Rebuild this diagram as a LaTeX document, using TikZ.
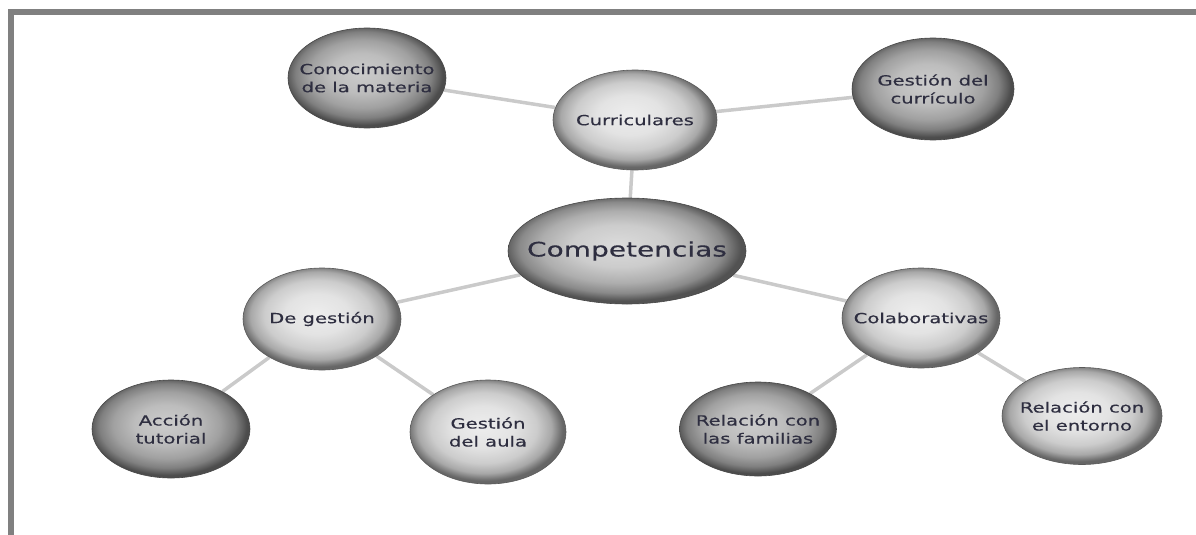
\documentclass[tikz,border=0pt]{standalone}
\usepackage{fontspec}
\setmainfont{DejaVu Sans}[FakeStretch=1.4,FakeBold=0.35]
\usetikzlibrary{shapes.geometric,backgrounds}
\definecolor{labelink}{HTML}{2E2E40}
\definecolor{linkgray}{HTML}{CACACA}
\definecolor{framegray}{HTML}{808080}
% shadings for the balls
\pgfdeclareradialshading{lightball}{\pgfpoint{-2bp}{3bp}}{color(0bp)=(white!93!black); color(10bp)=(white!89!black); color(17bp)=(white!80!black); color(21.5bp)=(white!66!black); color(24bp)=(white!47!black); color(25bp)=(white!40!black); color(50bp)=(white!40!black)}
\pgfdeclareradialshading{darkball}{\pgfpoint{-2bp}{3bp}}{color(0bp)=(white!80!black); color(10bp)=(white!74!black); color(17bp)=(white!63!black); color(21.5bp)=(white!50!black); color(24bp)=(white!36!black); color(25bp)=(white!30!black); color(50bp)=(white!30!black)}
\pgfdeclareradialshading{midball}{\pgfpoint{-2bp}{3bp}}{color(0bp)=(white!86!black); color(10bp)=(white!80!black); color(17bp)=(white!68!black); color(21.5bp)=(white!54!black); color(24bp)=(white!38!black); color(25bp)=(white!32!black); color(50bp)=(white!32!black)}

\begin{document}
\begin{tikzpicture}[x=1pt,y=-1pt,
    ball_light/.style ={ellipse, shading=lightball, draw=white!35!black, line width=0.6pt,
      inner xsep=-25pt, inner ysep=0pt, align=center, text=labelink,
      font={\fontsize{14}{18}\selectfont}, minimum width=158pt, minimum height=100pt},
    ball_dark/.style ={ball_light, shading=darkball, draw=white!28!black},
    ball_main/.style ={ball_light, shading=midball, draw=white!28!black,
      font={\fontsize{20}{24}\selectfont}, minimum width=238pt, minimum height=106pt},
    link/.style={draw=linkgray, line width=3.5pt}]
    \useasboundingbox (0,0) rectangle (1196,535);
    % frame
    \fill[framegray] (8,9) rectangle (1196,15);
    \fill[framegray] (8,9) rectangle (14,535);
    % top row
    \node[ball_dark] (conoc) at (367,78) {Conocimiento\\de la materia};
    \node[ball_light, minimum width=164pt] (curric) at (635,120) {Curriculares};
    \node[ball_dark, minimum width=162pt, minimum height=102pt] (gcurr) at (933,89) {Gestión del\\currículo};
    % middle row
    \node[ball_main] (compet) at (627,251) {Competencias};
    \node[ball_light, minimum height=102pt] (degest) at (322,319) {De gestión};
    \node[ball_light] (colab) at (921,318) {Colaborativas};
    % bottom row
    \node[ball_dark, minimum height=98pt] (accion) at (171,429) {Acción\\tutorial};
    \node[ball_light, minimum width=156pt, minimum height=104pt] (gaula) at (488,432) {Gestión\\del aula};
    \node[ball_dark, minimum width=157pt, minimum height=94pt] (famil) at (758,429) {Relación con\\las familias};
    \node[ball_light, minimum width=160pt, minimum height=97pt] (entor) at (1082,416) {Relación con\\el entorno};
    % connecting nodes with paths
    \begin{scope}[on background layer, every path/.style=link]
      \path (curric)--(conoc);
      \path (curric)--(gcurr);
      \path (curric)--(compet);
      \path (compet)--(degest);
      \path (compet)--(colab);
      \path (degest)--(accion);
      \path (degest)--(gaula);
      \path (colab)--(famil);
      \path (colab)--(entor);
    \end{scope}
\end{tikzpicture}
\end{document}
